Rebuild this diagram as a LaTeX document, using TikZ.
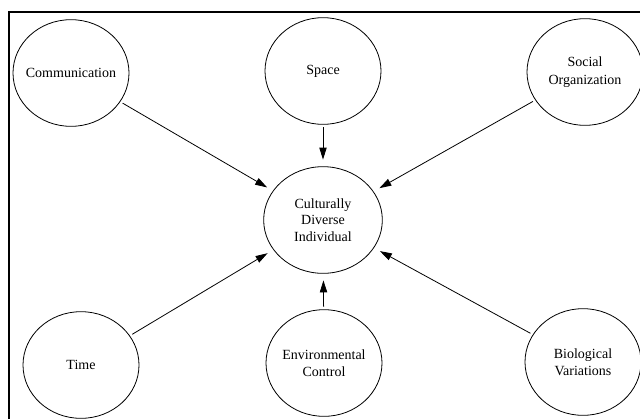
\documentclass[tikz,border=0pt]{standalone}
\usepackage{fontspec}
\setmainfont{Liberation Serif}
\usetikzlibrary{shapes.geometric,arrows.meta}
\begin{document}
\begin{tikzpicture}[x=0.75pt,y=-0.75pt,
    factor/.style={draw,ellipse,line width=0.6pt,minimum width=87pt,minimum height=80pt,
      inner xsep=-12pt,inner ysep=0pt,align=center,font=\fontsize{10.5}{13}\selectfont},
    person/.style={factor,minimum width=89pt,font=\fontsize{10.5}{12.5}\selectfont},
    link/.style={line width=0.6pt,-{Triangle[length=9pt,width=5.5pt]},shorten >=5pt,shorten <=2pt}]
  \useasboundingbox (0,0) rectangle (640,419);
  \draw[line width=1pt] (9,419) -- (9,12) -- (640,12);

  \node[person] (ind) at (323,220) {Culturally\\Diverse\\Individual};

  \node[factor] (com) at (71,73) {Communication};
  \node[factor] (spa) at (323,71) {Space};
  \node[factor] (soc) at (585,72) {Social\\Organization};
  \node[factor] (tim) at (81,365) {Time};
  \node[factor] (env) at (324,363) {Environmental\\Control};
  \node[factor] (bio) at (583,362) {Biological\\Variations};

  \draw[link] (com) -- (ind);
  \draw[link] (spa) -- (ind);
  \draw[link] (soc) -- (ind);
  \draw[link] (tim) -- (ind);
  \draw[link] (env) -- (ind);
  \draw[link] (bio) -- (ind);
\end{tikzpicture}
\end{document}
